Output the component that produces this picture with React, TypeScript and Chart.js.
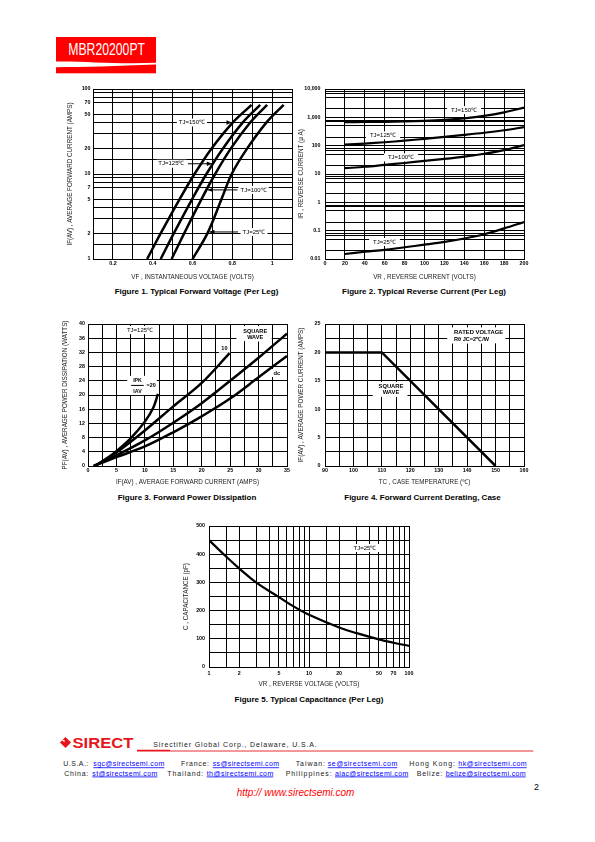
import React, { useEffect, useRef } from "react";
import { Chart, registerables } from "chart.js";

Chart.register(...registerables);

const FONT = "'Liberation Sans', Arial, Helvetica, sans-serif";
Chart.defaults.font.family = FONT;

// ===== Figure 1: Typical Forward Voltage =====
const fig1Current = [1, 2, 5, 10, 20, 40, 65];
const fig1Vf150 = [0.372, 0.44, 0.534, 0.61, 0.696, 0.801, 0.897];
const fig1Vf125 = [0.44, 0.506, 0.597, 0.67, 0.753, 0.851, 0.94];
const fig1Vf100 = [0.495, 0.558, 0.644, 0.714, 0.793, 0.889, 0.975];
const fig1Vf25 = [0.6, 0.675, 0.745, 0.797, 0.875, 0.97, 1.058];
const fig1XTicks = [0.1, 0.2, 0.3, 0.4, 0.5, 0.6, 0.7, 0.8, 0.9, 1.0, 1.1];
const fig1XLabels = [0.2, 0.4, 0.6, 0.8, 1.0];
const fig1YTicks = [1, 1.5, 2, 3, 4, 5, 7, 8, 9, 10, 15, 20, 30, 40, 50, 70, 80, 90, 100];
const fig1YLabels = [1, 2, 5, 7, 10, 20, 50, 70, 100];

// ===== Figure 2: Typical Reverse Current =====
const fig2Voltage = [20, 40, 60, 80, 100, 120, 140, 160, 180, 200];
const fig2Ir150 = [680, 685, 695, 715, 750, 810, 920, 1120, 1500, 2200];
const fig2Ir125 = [108, 118, 132, 150, 175, 205, 240, 285, 350, 450];
const fig2Ir100 = [16, 18, 21, 24.5, 29, 34, 41, 52, 70, 105];
const fig2Ir25 = [0.015, 0.018, 0.021, 0.026, 0.032, 0.04, 0.053, 0.075, 0.12, 0.2];
const fig2XTicks = [0, 20, 40, 60, 80, 100, 120, 140, 160, 180, 200];
const fig2YTicks = [
  0.01, 0.02, 0.05, 0.07, 0.08, 0.1, 0.2, 0.5, 0.7, 0.8, 1, 2, 5, 7, 8, 10, 20, 50, 70, 80,
  100, 200, 500, 700, 800, 1000, 2000, 5000, 7000, 8000, 10000,
];
const fig2YLabels = [0.01, 0.1, 1, 10, 100, 1000, 10000];

// ===== Figure 3: Forward Power Dissipation =====
const fig3DcCurrent = [1, 5, 10, 15, 20, 25, 30, 35];
const fig3DcPower = [0, 2.5, 5.5, 9.5, 14, 19, 25, 31];
const fig3SqCurrent = [1, 5, 10, 15, 20, 25, 30, 35];
const fig3SqPower = [0, 3, 7.2, 12.2, 17.7, 24, 30.5, 37.3];
const fig3R10Current = [1.2, 5, 10, 15, 20, 24.9];
const fig3R10Power = [0, 3.8, 10, 16.8, 23.4, 31.8];
const fig3R20Current = [1.2, 3, 5, 7.5, 10, 11.5, 12.3];
const fig3R20Power = [0, 1.8, 4.2, 7.8, 12.5, 16.5, 20.3];
const fig3XTicks = [0, 2.5, 5, 7.5, 10, 12.5, 15, 17.5, 20, 22.5, 25, 27.5, 30, 32.5, 35];
const fig3XLabels = [0, 5, 10, 15, 20, 25, 30, 35];
const fig3YTicks = [0, 4, 8, 12, 16, 20, 24, 28, 32, 36, 40];

// ===== Figure 4: Forward Current Derating =====
const fig4CaseTemp = [90, 110, 150];
const fig4Current = [20, 20, 0];
const fig4XTicks = [90, 95, 100, 105, 110, 115, 120, 125, 130, 135, 140, 145, 150, 155, 160];
const fig4XLabels = [90, 100, 110, 120, 130, 140, 150, 160];
const fig4YTicks = [0, 2.5, 5, 7.5, 10, 12.5, 15, 17.5, 20, 22.5, 25];
const fig4YLabels = [0, 5, 10, 15, 20, 25];

// ===== Figure 5: Typical Capacitance =====
const fig5Voltage = [1, 1.5, 2, 3, 5, 7, 10, 20, 30, 50, 70, 100];
const fig5Cap = [450, 390, 350, 298, 248, 215, 185, 140, 120, 98, 86, 75];
const fig5XTicks = [1, 1.5, 2, 3, 4, 5, 6, 7, 8, 9, 10, 15, 20, 30, 40, 50, 60, 70, 80, 90, 100];
const fig5XLabels = [1, 2, 5, 10, 20, 50, 70, 100];
const fig5YTicks = [0, 50, 100, 150, 200, 250, 300, 350, 400, 450, 500];
const fig5YLabels = [0, 100, 200, 300, 400, 500];

type Note = { text: string; x: number; y: number; bold?: boolean; size?: number; align?: "left" | "center"; pad?: number };
type Arrow = { x1: number; y1: number; x2: number; y2: number; head?: boolean };
type Box = { x1: number; y1: number; x2: number; y2: number };

const fig1Notes: Note[] = [
  { text: "TJ=150℃", x: 0.597, y: 40.3 },
  { text: "TJ=125℃", x: 0.494, y: 13.2 },
  { text: "TJ=100℃", x: 0.907, y: 6.5 },
  { text: "TJ=25℃", x: 0.909, y: 2.08 },
];
const fig1Arrows: Arrow[] = [
  { x1: 0.673, y1: 40.3, x2: 0.796, y2: 40.3, head: true },
  { x1: 0.577, y1: 13.2, x2: 0.697, y2: 13.2, head: true },
  { x1: 0.826, y1: 6.5, x2: 0.677, y2: 6.5, head: true },
  { x1: 0.829, y1: 2.08, x2: 0.685, y2: 2.08, head: true },
];
const fig2Notes: Note[] = [
  { text: "TJ=150℃", x: 139.7, y: 1795, pad: 4 },
  { text: "TJ=125℃", x: 58.3, y: 232, pad: 4 },
  { text: "TJ=100℃", x: 76.4, y: 38.5, pad: 4 },
  { text: "TJ=25℃", x: 59.8, y: 0.04, pad: 4 },
];
const fig3Notes: Note[] = [
  { text: "TJ=125℃", x: 9.15, y: 38.3, pad: 3 },
  { text: "SQUARE", x: 29.4, y: 38.0, bold: true, size: 5.6 },
  { text: "WAVE", x: 29.4, y: 36.2, bold: true, size: 5.6 },
  { text: "10", x: 24.0, y: 33.0, bold: true, size: 5.6, pad: 2.5 },
  { text: "dc", x: 33.2, y: 26.2, bold: true, size: 5.8, pad: 3 },
  { text: "IPK", x: 8.7, y: 24.2, bold: true, size: 5.2 },
  { text: "IAV", x: 8.7, y: 21.1, bold: true, size: 5.2 },
  { text: "=20", x: 11.1, y: 22.7, bold: true, size: 5.4 },
];
const fig3Arrows: Arrow[] = [{ x1: 7.6, y1: 22.7, x2: 9.8, y2: 22.7, head: false }];
const fig3Boxes: Box[] = [
  { x1: 26.1, y1: 35.2, x2: 32.3, y2: 39.4 },
  { x1: 6.9, y1: 20.0, x2: 12.1, y2: 25.4 },
];
const fig4Notes: Note[] = [
  { text: "RATED VOLTAGE", x: 135.4, y: 23.6, bold: true, size: 5.9, align: "left" },
  { text: "Rθ JC=2℃/W", x: 135.4, y: 22.3, bold: true, size: 5.6, align: "left" },
  { text: "SQUARE", x: 113.2, y: 14.1, bold: true, size: 5.8 },
  { text: "WAVE", x: 113.2, y: 12.9, bold: true, size: 5.8 },
];
const fig4Boxes: Box[] = [
  { x1: 133, y1: 21.6, x2: 153.5, y2: 24.4 },
  { x1: 106.8, y1: 12.2, x2: 119, y2: 14.8 },
];
const fig5Notes: Note[] = [{ text: "TJ=25℃", x: 36.3, y: 422, pad: 3 }];

function fontStr(n: Note) {
  return `${n.bold ? "bold " : ""}${n.size || 6}px ${FONT}`;
}

function notesPlugin(notes: Note[], arrows: Arrow[], boxes: Box[]) {
  return {
    id: "notes",
    beforeDatasetsDraw(chart: any) {
      const ctx = chart.ctx;
      const xs = chart.scales.x;
      const ys = chart.scales.y;
      ctx.save();
      ctx.fillStyle = "#fff";
      for (const b of boxes) {
        const a1 = xs.getPixelForValue(b.x1);
        const a2 = xs.getPixelForValue(b.x2);
        const c1 = ys.getPixelForValue(b.y1);
        const c2 = ys.getPixelForValue(b.y2);
        ctx.fillRect(Math.min(a1, a2), Math.min(c1, c2), Math.abs(a2 - a1), Math.abs(c2 - c1));
      }
      for (const n of notes) {
        ctx.font = fontStr(n);
        const w = ctx.measureText(n.text).width;
        const px = xs.getPixelForValue(n.x);
        const py = ys.getPixelForValue(n.y);
        const left = n.align === "left" ? px : px - w / 2;
        const p = n.pad ?? 2;
        ctx.fillStyle = "#fff";
        ctx.fillRect(left - p, py - 4, w + 2 * p, 8);
      }
      ctx.fillStyle = "#000";
      ctx.textBaseline = "middle";
      for (const n of notes) {
        ctx.font = fontStr(n);
        ctx.textAlign = n.align === "left" ? "left" : "center";
        ctx.fillText(n.text, xs.getPixelForValue(n.x), ys.getPixelForValue(n.y));
      }
      ctx.restore();
    },
    afterDatasetsDraw(chart: any) {
      const ctx = chart.ctx;
      const xs = chart.scales.x;
      const ys = chart.scales.y;
      ctx.save();
      ctx.strokeStyle = "#000";
      ctx.fillStyle = "#000";
      ctx.lineWidth = 1;
      for (const a of arrows) {
        const x1 = xs.getPixelForValue(a.x1);
        const y1 = ys.getPixelForValue(a.y1);
        const x2 = xs.getPixelForValue(a.x2);
        const y2 = ys.getPixelForValue(a.y2);
        ctx.beginPath();
        ctx.moveTo(x1, y1);
        ctx.lineTo(x2, y2);
        ctx.stroke();
        if (a.head) {
          const ang = Math.atan2(y2 - y1, x2 - x1);
          const L = 5;
          const W = 2.2;
          const c = Math.cos(ang);
          const s = Math.sin(ang);
          ctx.beginPath();
          ctx.moveTo(x2, y2);
          ctx.lineTo(x2 - L * c + W * s, y2 - L * s - W * c);
          ctx.lineTo(x2 - L * c - W * s, y2 - L * s + W * c);
          ctx.closePath();
          ctx.fill();
        }
      }
      ctx.restore();
    },
  };
}

type ScaleSpec = {
  type: "linear" | "logarithmic";
  min: number;
  max: number;
  ticks: number[];
  labels: number[];
  fmt?: (v: number) => string;
  horizontal: boolean;
  size: number;
  title: string;
  titlePad: number;
  tickPad: number;
};

function scaleOpts(o: ScaleSpec) {
  return {
    type: o.type,
    min: o.min,
    max: o.max,
    position: o.horizontal ? "bottom" : "left",
    afterBuildTicks: (s: any) => {
      s.ticks = o.ticks.map((v) => ({ value: v }));
    },
    afterFit: (s: any) => {
      if (o.horizontal) s.height = o.size;
      else s.width = o.size;
      s.paddingLeft = 0;
      s.paddingRight = 0;
      s.paddingTop = 0;
      s.paddingBottom = 0;
    },
    grid: { color: "#000", lineWidth: 1, drawTicks: false, tickLength: 0 },
    border: { display: true, color: "#000", width: 1 },
    ticks: {
      autoSkip: false,
      maxRotation: 0,
      minRotation: 0,
      padding: o.tickPad,
      color: "#000",
      font: { family: FONT, size: 5.3, weight: "bold" },
      callback: (v: any) => {
        const n = Number(v);
        if (o.labels.indexOf(n) < 0) return "";
        return o.fmt ? o.fmt(n) : String(n);
      },
    },
    title: {
      display: true,
      text: o.title,
      color: "#222",
      font: { family: FONT, size: 6.3 },
      padding: { top: o.titlePad, bottom: o.titlePad },
    },
  };
}

function series(xs: number[], ys: number[], width = 2.5, tension = 0.35) {
  return {
    data: xs.map((x, i) => ({ x, y: ys[i] })),
    borderColor: "#000",
    backgroundColor: "#000",
    borderWidth: width,
    pointRadius: 0,
    tension,
    fill: false,
  };
}

function makeConfig(datasets: any[], x: any, y: any, plugin: any) {
  return {
    type: "line",
    data: { datasets },
    options: {
      responsive: false,
      maintainAspectRatio: false,
      animation: false,
      devicePixelRatio: 1,
      events: [],
      layout: { padding: { top: 6, right: 6, left: 0, bottom: 0 } },
      plugins: { legend: { display: false }, tooltip: { enabled: false }, title: { display: false } },
      scales: { x, y },
    },
    plugins: [plugin],
  };
}

function ChartBox(props: { left: number; top: number; width: number; height: number; build: () => any }) {
  const ref = useRef<HTMLCanvasElement>(null);
  useEffect(() => {
    const chart = new Chart(ref.current as HTMLCanvasElement, props.build());
    return () => chart.destroy();
  }, []);
  return (
    <canvas
      ref={ref}
      width={props.width}
      height={props.height}
      style={{ position: "absolute", left: props.left, top: props.top, width: props.width, height: props.height }}
    />
  );
}

const fmtComma = (v: number) => v.toLocaleString("en-US");

const buildFig1 = () =>
  makeConfig(
    [
      series(fig1Vf150, fig1Current),
      series(fig1Vf125, fig1Current),
      series(fig1Vf100, fig1Current),
      series(fig1Vf25, fig1Current),
    ],
    scaleOpts({ type: "linear", min: 0.1, max: 1.1, ticks: fig1XTicks, labels: fig1XLabels, horizontal: true, size: 26, title: "VF , INSTANTANEOUS VOLTAGE (VOLTS)", titlePad: 4.2, tickPad: 1 }),
    scaleOpts({ type: "logarithmic", min: 1, max: 100, ticks: fig1YTicks, labels: fig1YLabels, horizontal: false, size: 33, title: "IF(AV) , AVERAGE FORWARD CURRENT (AMPS)", titlePad: 6.2, tickPad: 2.5 }),
    notesPlugin(fig1Notes, fig1Arrows, [])
  );

const buildFig2 = () =>
  makeConfig(
    [
      series(fig2Voltage, fig2Ir150, 2.2),
      series(fig2Voltage, fig2Ir125, 2.2),
      series(fig2Voltage, fig2Ir100, 2.2),
      series(fig2Voltage, fig2Ir25, 2.2),
    ],
    scaleOpts({ type: "linear", min: 0, max: 200, ticks: fig2XTicks, labels: fig2XTicks, horizontal: true, size: 26, title: "VR , REVERSE CURRENT (VOLTS)", titlePad: 4.2, tickPad: 1 }),
    scaleOpts({ type: "logarithmic", min: 0.01, max: 10000, ticks: fig2YTicks, labels: fig2YLabels, fmt: fmtComma, horizontal: false, size: 30, title: "IR , REVERSE CURRENT (μ A)", titlePad: 2.2, tickPad: 4.5 }),
    notesPlugin(fig2Notes, [], [])
  );

const buildFig3 = () =>
  makeConfig(
    [
      series(fig3R20Current, fig3R20Power),
      series(fig3R10Current, fig3R10Power),
      series(fig3SqCurrent, fig3SqPower),
      series(fig3DcCurrent, fig3DcPower),
    ],
    scaleOpts({ type: "linear", min: 0, max: 35, ticks: fig3XTicks, labels: fig3XLabels, horizontal: true, size: 24, title: "IF(AV) , AVERAGE FORWARD CURRENT (AMPS)", titlePad: 4.2, tickPad: 1 }),
    scaleOpts({ type: "linear", min: 0, max: 40, ticks: fig3YTicks, labels: fig3YTicks, horizontal: false, size: 28, title: "PF(AV) , AVERAGE POWER DISSIPATION (WATTS)", titlePad: 1.7, tickPad: 3 }),
    notesPlugin(fig3Notes, fig3Arrows, fig3Boxes)
  );

const buildFig4 = () =>
  makeConfig(
    [series(fig4CaseTemp, fig4Current, 2.5, 0)],
    scaleOpts({ type: "linear", min: 90, max: 160, ticks: fig4XTicks, labels: fig4XLabels, horizontal: true, size: 24, title: "TC , CASE TEMPERATURE (℃)", titlePad: 4.2, tickPad: 1 }),
    scaleOpts({ type: "linear", min: 0, max: 25, ticks: fig4YTicks, labels: fig4YLabels, horizontal: false, size: 30, title: "IF(AV) , AVERAGE POWER CURRENT (AMPS)", titlePad: 2.2, tickPad: 4.5 }),
    notesPlugin(fig4Notes, [], fig4Boxes)
  );

const buildFig5 = () =>
  makeConfig(
    [series(fig5Voltage, fig5Cap, 2.2, 0.4)],
    scaleOpts({ type: "logarithmic", min: 1, max: 100, ticks: fig5XTicks, labels: fig5XLabels, horizontal: true, size: 24, title: "VR , REVERSE VOLTAGE (VOLTS)", titlePad: 3.2, tickPad: 3.5 }),
    scaleOpts({ type: "linear", min: 0, max: 500, ticks: fig5YTicks, labels: fig5YLabels, horizontal: false, size: 31, title: "C , CAPACITANCE (pF)", titlePad: 4.2, tickPad: 4 }),
    notesPlugin(fig5Notes, [], [])
  );

const captions = [
  { text: "Figure 1. Typical Forward Voltage (Per Leg)", x: 196.5, y: 294 },
  { text: "Figure 2. Typical Reverse Current (Per Leg)", x: 424, y: 294 },
  { text: "Figure 3. Forward Power Dissipation", x: 187, y: 500 },
  { text: "Figure 4. Forward Current Derating, Case", x: 422.5, y: 500 },
  { text: "Figure 5. Typical Capacitance (Per Leg)", x: 309, y: 702 },
];

const footerLine1 = [
  { text: "U.S.A.:", x: 63.3, w: 25, link: false },
  { text: "sgc@sirectsemi.com", x: 93.3, w: 71, link: true },
  { text: "France:", x: 181, w: 28, link: false },
  { text: "ss@sirectsemi.com", x: 212.7, w: 66.3, link: true },
  { text: "Taiwan:", x: 295.7, w: 29.3, link: false },
  { text: "se@sirectsemi.com", x: 327.7, w: 69.6, link: true },
  { text: "Hong Kong:", x: 409.3, w: 45.7, link: false },
  { text: "hk@sirectsemi.com", x: 458.3, w: 68.4, link: true },
];
const footerLine2 = [
  { text: "China:", x: 64.3, w: 24, link: false },
  { text: "st@sirectsemi.com", x: 92.3, w: 65, link: true },
  { text: "Thailand:", x: 167.3, w: 36, link: false },
  { text: "th@sirectsemi.com", x: 206.7, w: 66.6, link: true },
  { text: "Philippines:", x: 285.7, w: 46, link: false },
  { text: "aiac@sirectsemi.com", x: 335, w: 73.3, link: true },
  { text: "Belize:", x: 416.7, w: 25.6, link: false },
  { text: "belize@sirectsemi.com", x: 445.7, w: 80, link: true },
];

function FooterRow(props: { items: typeof footerLine1; base: number }) {
  return (
    <g>
      {props.items.map((it, i) => (
        <g key={i}>
          <text
            x={it.x}
            y={props.base}
            fontFamily={FONT}
            fontSize={7}
            fill={it.link ? "#0000ff" : "#222"}
            textLength={it.w}
            lengthAdjust="spacing"
          >
            {it.text}
          </text>
          {it.link ? <line x1={it.x} x2={it.x + it.w} y1={props.base + 1.3} y2={props.base + 1.3} stroke="#0000ff" strokeWidth={0.8} /> : null}
        </g>
      ))}
    </g>
  );
}

export default function App() {
  return (
    <div style={{ position: "absolute", left: 0, top: 0, width: 595, height: 842, background: "#fff", overflow: "hidden" }}>
      <svg width={595} height={842} style={{ position: "absolute", left: 0, top: 0 }}>
        {/* header banner */}
        <rect x={56} y={37} width={100} height={36.3} fill="#ff0000" />
        <path d="M56,61.5 C85,61 115,64.5 156,62.8 L156,64.6 C115,66.3 85,67 56,67.3 Z" fill="#fff" />
        <text x={68.3} y={55} fontFamily={FONT} fontSize={16} fill="#fff" textLength={76.7} lengthAdjust="spacingAndGlyphs">
          MBR20200PT
        </text>

        {/* captions */}
        {captions.map((c, i) => (
          <text key={i} x={c.x} y={c.y} textAnchor="middle" fontFamily={FONT} fontSize={8} fontWeight="bold" fill="#000">
            {c.text}
          </text>
        ))}

        {/* footer logo */}
        <polygon points="65.5,737 71,742.5 65.5,748 60,742.5" fill="#e8141b" />
        <polygon points="62,740 64.5,740 64.5,742.5" fill="#fff" />
        <text x={72.5} y={748} fontFamily={FONT} fontSize={14.5} fontWeight={900} fill="#e8141b" textLength={60.8} lengthAdjust="spacingAndGlyphs">
          SIRECT
        </text>
        <text x={153.3} y={746.5} fontFamily={FONT} fontSize={7} fill="#222" textLength={163.4} lengthAdjust="spacing">
          Sirectifier Global Corp., Delaware, U.S.A.
        </text>
        <line x1={137} x2={170} y1={750.6} y2={750.6} stroke="#e8141b" strokeWidth={1.6} />
        <line x1={170} x2={533.3} y1={751} y2={751} stroke="#e8141b" strokeWidth={0.9} />

        <FooterRow items={footerLine1} base={766.4} />
        <FooterRow items={footerLine2} base={775.6} />

        <text x={534} y={790} fontFamily={FONT} fontSize={9} fill="#000">
          2
        </text>
        <text x={236.7} y={796} fontFamily={FONT} fontSize={10} fontStyle="italic" fill="#ff0000" textLength={117.6} lengthAdjust="spacingAndGlyphs">
          http:// www.sirectsemi.com
        </text>
      </svg>

      <ChartBox left={60} top={83} width={238} height={202} build={buildFig1} />
      <ChartBox left={295} top={83} width={235} height={202} build={buildFig2} />
      <ChartBox left={60} top={318} width={233} height={172} build={buildFig3} />
      <ChartBox left={295} top={318} width={235} height={172} build={buildFig4} />
      <ChartBox left={178} top={520} width={237} height={171} build={buildFig5} />
    </div>
  );
}
